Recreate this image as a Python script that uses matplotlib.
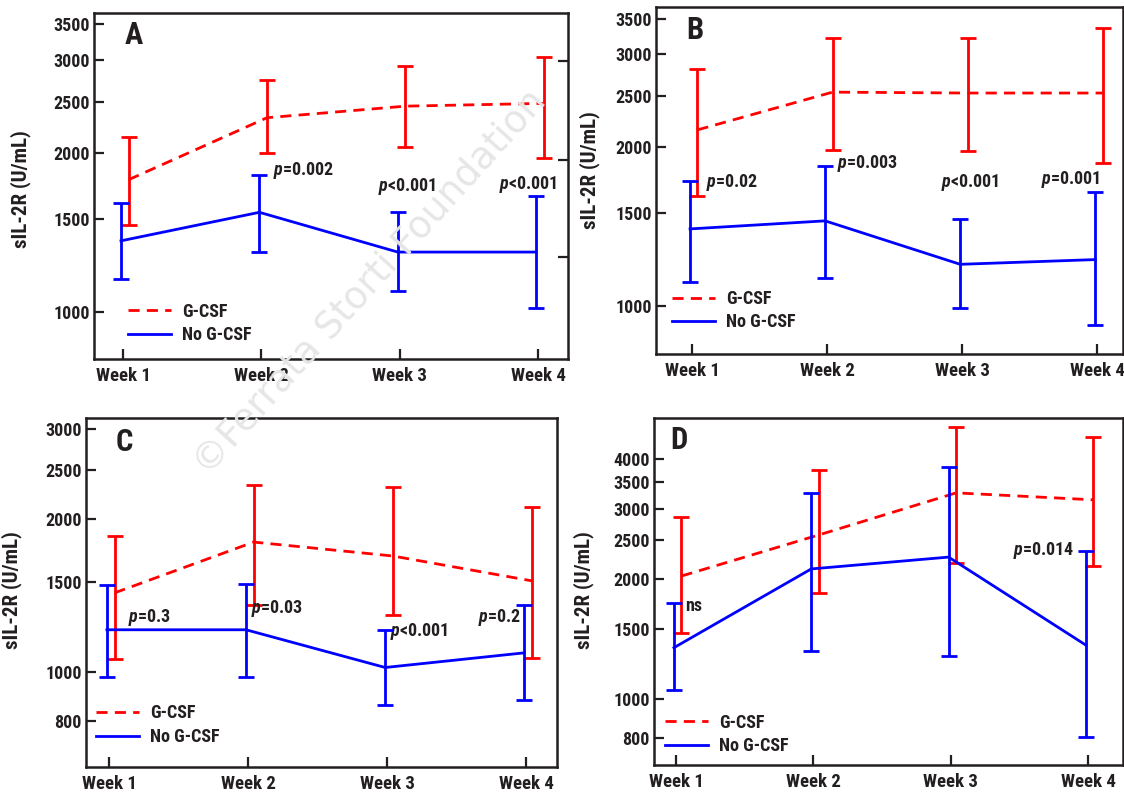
import matplotlib
matplotlib.use("Agg")
import matplotlib.pyplot as plt
import matplotlib.ticker as mticker
from matplotlib import font_manager

# ---------------- data ----------------
weeks = ["Week 1", "Week 2", "Week 3", "Week 4"]

A_gcsf_mean = [1780, 2330, 2450, 2480]
A_gcsf_lo = [1465, 1995, 2055, 1960]
A_gcsf_hi = [2140, 2740, 2915, 3030]
A_no_mean = [1365, 1545, 1300, 1300]
A_no_lo = [1155, 1300, 1100, 1020]
A_no_hi = [1610, 1815, 1545, 1655]
A_pvals = ["=0.002", "<0.001", "<0.001"]

B_gcsf_mean = [2155, 2540, 2530, 2530]
B_gcsf_lo = [1615, 1975, 1965, 1865]
B_gcsf_hi = [2810, 3215, 3215, 3360]
B_no_mean = [1400, 1450, 1200, 1225]
B_no_lo = [1110, 1130, 990, 920]
B_no_hi = [1725, 1840, 1460, 1645]
B_pvals = ["=0.02", "=0.003", "<0.001", "=0.001"]

C_gcsf_mean = [1430, 1800, 1690, 1510]
C_gcsf_lo = [1060, 1355, 1295, 1065]
C_gcsf_hi = [1850, 2330, 2310, 2110]
C_no_mean = [1210, 1210, 1020, 1090]
C_no_lo = [975, 975, 860, 880]
C_no_hi = [1480, 1490, 1210, 1355]
C_pvals = ["=0.3", "=0.03", "<0.001", "=0.2"]

D_gcsf_mean = [2035, 2580, 3290, 3160]
D_gcsf_lo = [1465, 1845, 2195, 2155]
D_gcsf_hi = [2860, 3750, 4810, 4540]
D_no_mean = [1345, 2120, 2270, 1365]
D_no_lo = [1055, 1320, 1280, 805]
D_no_hi = [1740, 3290, 3820, 2350]
D_pvals = ["ns", "=0.014"]

A_yticks = [1000, 1500, 2000, 2500, 3000, 3500]
A_right_ticks = [2980, 1940, 1270]
B_yticks = [1000, 1500, 2000, 2500, 3000, 3500]
C_yticks = [800, 1000, 1500, 2000, 2500, 3000]
D_yticks = [800, 1000, 1500, 2000, 2500, 3000, 3500, 4000]

# ---------------- style ----------------
avail = {f.name for f in font_manager.fontManager.ttflist}
fams = [f for f in ["Roboto Condensed", "Liberation Sans Narrow", "DejaVu Sans Condensed"] if f in avail]
fams += ["DejaVu Sans"]
plt.rcParams["font.family"] = fams
plt.rcParams["font.weight"] = "bold"
plt.rcParams["mathtext.fontset"] = "custom"
plt.rcParams["mathtext.it"] = fams[0] + ":italic:bold"
plt.rcParams["mathtext.rm"] = fams[0] + ":bold"

RED = "#ff0000"
BLUE = "#0000ff"
DARK = "#231f20"
FS = 13

fig = plt.figure(figsize=(11.24, 7.94), dpi=100)

# faint watermark, drawn beneath the transparent axes
fig.text(200 / 1124, 1 - 470 / 794, "\u00a9Ferrata Storti Foundation", fontsize=27,
         color="#e6e6e6", rotation=47.8, rotation_mode="anchor", ha="left", va="center",
         zorder=0, family="DejaVu Sans", fontweight="normal")

def px_axes(l, t, r, b):
    W, H = 1124.0, 794.0
    return fig.add_axes([l / W, 1 - b / H, (r - l) / W, (b - t) / H])

panels = [
    dict(letter="A", box=(94, 13, 568, 359), xlim=(0.79, 4.215), ylim=(817, 3672),
         gm=A_gcsf_mean, glo=A_gcsf_lo, ghi=A_gcsf_hi,
         nm=A_no_mean, nlo=A_no_lo, nhi=A_no_hi, yt=A_yticks, rt=A_right_ticks,
         letter_pos=(0.084, 0.936), ylab=(-0.133, 0.49), leg=(0.072, 0.103),
         ann=[(2.08, 1850, A_pvals[0], "left"), (3.05, 1728, A_pvals[1], "center"),
              (3.93, 1745, A_pvals[2], "center")]),
    dict(letter="B", box=(656, 7, 1123, 354), xlim=(0.733, 4.19), ylim=(812, 3680),
         gm=B_gcsf_mean, glo=B_gcsf_lo, ghi=B_gcsf_hi,
         nm=B_no_mean, nlo=B_no_lo, nhi=B_no_hi, yt=B_yticks, rt=None,
         letter_pos=(0.083, 0.934), ylab=(-0.12, 0.53), leg=(0.034, 0.125),
         ann=[(1.1, 1711, B_pvals[0], "left"), (2.07, 1858, B_pvals[1], "left"),
              (3.06, 1711, B_pvals[2], "center"), (3.8, 1735, B_pvals[3], "center")]),
    dict(letter="C", box=(86, 418, 557, 767), xlim=(0.835, 4.22), ylim=(650, 3157),
         gm=C_gcsf_mean, glo=C_gcsf_lo, ghi=C_gcsf_hi,
         nm=C_no_mean, nlo=C_no_lo, nhi=C_no_hi, yt=C_yticks, rt=None,
         letter_pos=(0.081, 0.931), ylab=(-0.136, 0.507), leg=(0.021, 0.12),
         ann=[(1.14, 1282, C_pvals[0], "left"), (2.02, 1330, C_pvals[1], "left"),
              (3.02, 1198, C_pvals[2], "left"), (3.96, 1282, C_pvals[3], "right")]),
    dict(letter="D", box=(654, 418, 1123, 765), xlim=(0.84, 4.255), ylim=(683, 5070),
         gm=D_gcsf_mean, glo=D_gcsf_lo, ghi=D_gcsf_hi,
         nm=D_no_mean, nlo=D_no_lo, nhi=D_no_hi, yt=D_yticks, rt=None,
         letter_pos=(0.053, 0.937), ylab=(-0.128, 0.504), leg=(0.023, 0.088),
         ann=[(1.07, 1711, D_pvals[0], "left"), (3.9, 2365, D_pvals[1], "right")]),
]

for p in panels:
    ax = px_axes(*p["box"])
    ax.set_facecolor("none")
    x = list(range(1, len(weeks) + 1))
    xr = [v + 0.04 for v in x]
    xb = [v - 0.015 for v in x]
    ax.set_yscale("log")
    ax.set_xlim(*p["xlim"])
    ax.set_ylim(*p["ylim"])

    gm, glo, ghi = p["gm"], p["glo"], p["ghi"]
    nm, nlo, nhi = p["nm"], p["nlo"], p["nhi"]
    ax.errorbar(xr, gm, yerr=[[m - l for m, l in zip(gm, glo)], [h - m for m, h in zip(gm, ghi)]],
                fmt="none", ecolor=RED, elinewidth=2.0, capsize=6, capthick=2.0, zorder=3)
    ax.plot(xr, gm, color=RED, lw=2.0, dashes=(4, 2.6), label="G-CSF", zorder=3)
    ax.errorbar(xb, nm, yerr=[[m - l for m, l in zip(nm, nlo)], [h - m for m, h in zip(nm, nhi)]],
                fmt="none", ecolor=BLUE, elinewidth=2.0, capsize=6, capthick=2.0, zorder=4)
    ax.plot(xb, nm, color=BLUE, lw=2.0, label="No G-CSF", zorder=4)

    ax.yaxis.set_major_locator(mticker.FixedLocator(p["yt"]))
    ax.yaxis.set_major_formatter(mticker.FixedFormatter([str(v) for v in p["yt"]]))
    ax.yaxis.set_minor_locator(mticker.NullLocator())
    ax.set_xticks(x)
    ax.set_xticklabels(weeks)
    ax.tick_params(axis="both", direction="in", length=7, width=1.6, colors=DARK,
                   labelsize=FS, labelcolor=DARK)
    ax.tick_params(axis="y", pad=3)
    ax.tick_params(axis="x", pad=6, labelsize=FS + 0.5)
    for lab in ax.get_xticklabels() + ax.get_yticklabels():
        lab.set_fontweight("bold")
    for s in ax.spines.values():
        s.set_linewidth(1.8)
        s.set_color(DARK)

    if p["rt"]:
        tw = ax.twinx()
        tw.set_yscale("log")
        tw.set_ylim(*p["ylim"])
        tw.yaxis.set_major_locator(mticker.FixedLocator(p["rt"]))
        tw.yaxis.set_minor_locator(mticker.NullLocator())
        tw.tick_params(axis="y", direction="in", length=7, width=1.6, colors=DARK,
                       labelright=False)
        for s in tw.spines.values():
            s.set_visible(False)
        tw.set_facecolor("none")

    ax.set_ylabel("sIL-2R (U/mL)", fontsize=15, fontweight="bold", color=DARK)
    ax.yaxis.set_label_coords(*p["ylab"])
    ax.text(*p["letter_pos"], p["letter"], transform=ax.transAxes, fontsize=22,
            fontweight="bold", color=DARK, ha="center", va="center")

    for (ax_x, ax_y, txt, ha) in p["ann"]:
        s = txt if txt == "ns" else r"$p$" + txt
        ax.text(ax_x, ax_y, s, fontsize=FS, fontweight="bold", color=DARK, ha=ha, va="center")

    leg = ax.legend(loc="center left", bbox_to_anchor=p["leg"], frameon=False,
                    fontsize=FS, handlelength=2.4, handletextpad=0.6, labelspacing=0.3,
                    borderpad=0, borderaxespad=0)
    for t in leg.get_texts():
        t.set_fontweight("bold")
        t.set_color(DARK)

fig.savefig("out.png", dpi=100)
